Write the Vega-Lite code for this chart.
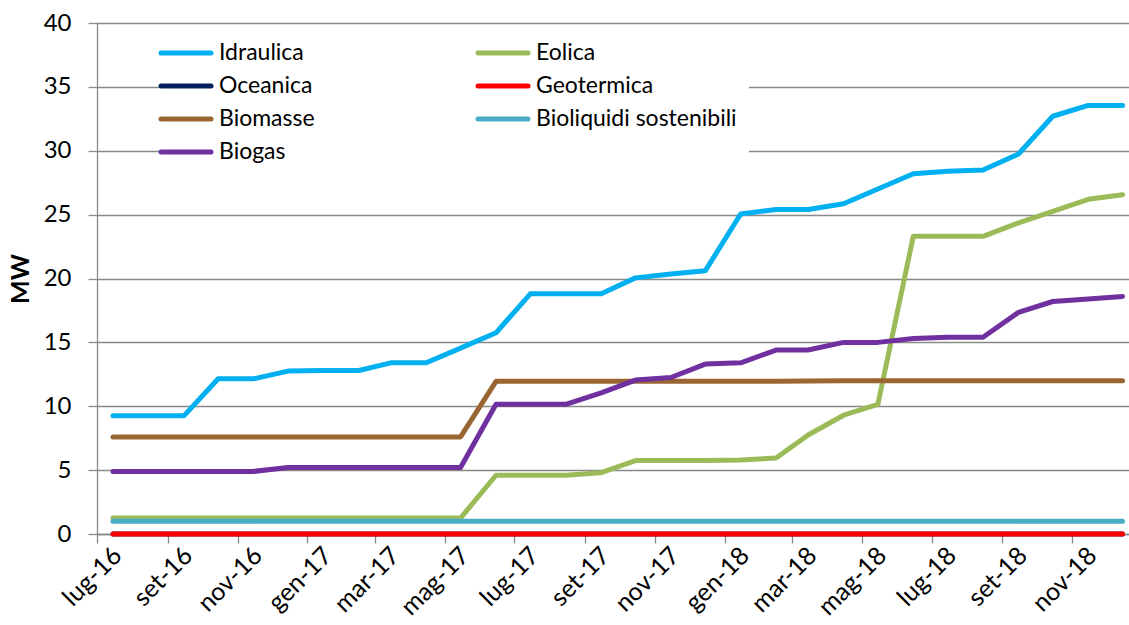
{
  "$schema": "https://vega.github.io/schema/vega-lite/v6.json",
  "width": 1032,
  "height": 511,
  "autosize": {"type": "none"},
  "padding": {"left": 97, "top": 23, "right": 0, "bottom": 91},
  "background": "white",
  "config": {"view": {"stroke": null}, "font": "Lato"},
  "data": {"values": [
    {"mese": "2016-07-01", "fonte": "Idraulica", "MW": 9.25},
    {"mese": "2016-08-01", "fonte": "Idraulica", "MW": 9.25},
    {"mese": "2016-09-01", "fonte": "Idraulica", "MW": 9.25},
    {"mese": "2016-10-01", "fonte": "Idraulica", "MW": 12.15},
    {"mese": "2016-11-01", "fonte": "Idraulica", "MW": 12.15},
    {"mese": "2016-12-01", "fonte": "Idraulica", "MW": 12.75},
    {"mese": "2017-01-01", "fonte": "Idraulica", "MW": 12.8},
    {"mese": "2017-02-01", "fonte": "Idraulica", "MW": 12.8},
    {"mese": "2017-03-01", "fonte": "Idraulica", "MW": 13.4},
    {"mese": "2017-04-01", "fonte": "Idraulica", "MW": 13.4},
    {"mese": "2017-05-01", "fonte": "Idraulica", "MW": 14.55},
    {"mese": "2017-06-01", "fonte": "Idraulica", "MW": 15.75},
    {"mese": "2017-07-01", "fonte": "Idraulica", "MW": 18.8},
    {"mese": "2017-08-01", "fonte": "Idraulica", "MW": 18.8},
    {"mese": "2017-09-01", "fonte": "Idraulica", "MW": 18.8},
    {"mese": "2017-10-01", "fonte": "Idraulica", "MW": 20.05},
    {"mese": "2017-11-01", "fonte": "Idraulica", "MW": 20.35},
    {"mese": "2017-12-01", "fonte": "Idraulica", "MW": 20.6},
    {"mese": "2018-01-01", "fonte": "Idraulica", "MW": 25.05},
    {"mese": "2018-02-01", "fonte": "Idraulica", "MW": 25.4},
    {"mese": "2018-03-01", "fonte": "Idraulica", "MW": 25.4},
    {"mese": "2018-04-01", "fonte": "Idraulica", "MW": 25.85},
    {"mese": "2018-05-01", "fonte": "Idraulica", "MW": 27.0},
    {"mese": "2018-06-01", "fonte": "Idraulica", "MW": 28.2},
    {"mese": "2018-07-01", "fonte": "Idraulica", "MW": 28.4},
    {"mese": "2018-08-01", "fonte": "Idraulica", "MW": 28.5},
    {"mese": "2018-09-01", "fonte": "Idraulica", "MW": 29.75},
    {"mese": "2018-10-01", "fonte": "Idraulica", "MW": 32.7},
    {"mese": "2018-11-01", "fonte": "Idraulica", "MW": 33.55},
    {"mese": "2018-12-01", "fonte": "Idraulica", "MW": 33.55},

    {"mese": "2016-07-01", "fonte": "Eolica", "MW": 1.25},
    {"mese": "2016-08-01", "fonte": "Eolica", "MW": 1.25},
    {"mese": "2016-09-01", "fonte": "Eolica", "MW": 1.25},
    {"mese": "2016-10-01", "fonte": "Eolica", "MW": 1.25},
    {"mese": "2016-11-01", "fonte": "Eolica", "MW": 1.25},
    {"mese": "2016-12-01", "fonte": "Eolica", "MW": 1.25},
    {"mese": "2017-01-01", "fonte": "Eolica", "MW": 1.25},
    {"mese": "2017-02-01", "fonte": "Eolica", "MW": 1.25},
    {"mese": "2017-03-01", "fonte": "Eolica", "MW": 1.25},
    {"mese": "2017-04-01", "fonte": "Eolica", "MW": 1.25},
    {"mese": "2017-05-01", "fonte": "Eolica", "MW": 1.25},
    {"mese": "2017-06-01", "fonte": "Eolica", "MW": 4.6},
    {"mese": "2017-07-01", "fonte": "Eolica", "MW": 4.6},
    {"mese": "2017-08-01", "fonte": "Eolica", "MW": 4.6},
    {"mese": "2017-09-01", "fonte": "Eolica", "MW": 4.8},
    {"mese": "2017-10-01", "fonte": "Eolica", "MW": 5.75},
    {"mese": "2017-11-01", "fonte": "Eolica", "MW": 5.75},
    {"mese": "2017-12-01", "fonte": "Eolica", "MW": 5.75},
    {"mese": "2018-01-01", "fonte": "Eolica", "MW": 5.8},
    {"mese": "2018-02-01", "fonte": "Eolica", "MW": 5.95},
    {"mese": "2018-03-01", "fonte": "Eolica", "MW": 7.75},
    {"mese": "2018-04-01", "fonte": "Eolica", "MW": 9.3},
    {"mese": "2018-05-01", "fonte": "Eolica", "MW": 10.15},
    {"mese": "2018-06-01", "fonte": "Eolica", "MW": 23.3},
    {"mese": "2018-07-01", "fonte": "Eolica", "MW": 23.3},
    {"mese": "2018-08-01", "fonte": "Eolica", "MW": 23.3},
    {"mese": "2018-09-01", "fonte": "Eolica", "MW": 24.35},
    {"mese": "2018-10-01", "fonte": "Eolica", "MW": 25.25},
    {"mese": "2018-11-01", "fonte": "Eolica", "MW": 26.2},
    {"mese": "2018-12-01", "fonte": "Eolica", "MW": 26.55},

    {"mese": "2016-07-01", "fonte": "Oceanica", "MW": 0},
    {"mese": "2016-08-01", "fonte": "Oceanica", "MW": 0},
    {"mese": "2016-09-01", "fonte": "Oceanica", "MW": 0},
    {"mese": "2016-10-01", "fonte": "Oceanica", "MW": 0},
    {"mese": "2016-11-01", "fonte": "Oceanica", "MW": 0},
    {"mese": "2016-12-01", "fonte": "Oceanica", "MW": 0},
    {"mese": "2017-01-01", "fonte": "Oceanica", "MW": 0},
    {"mese": "2017-02-01", "fonte": "Oceanica", "MW": 0},
    {"mese": "2017-03-01", "fonte": "Oceanica", "MW": 0},
    {"mese": "2017-04-01", "fonte": "Oceanica", "MW": 0},
    {"mese": "2017-05-01", "fonte": "Oceanica", "MW": 0},
    {"mese": "2017-06-01", "fonte": "Oceanica", "MW": 0},
    {"mese": "2017-07-01", "fonte": "Oceanica", "MW": 0},
    {"mese": "2017-08-01", "fonte": "Oceanica", "MW": 0},
    {"mese": "2017-09-01", "fonte": "Oceanica", "MW": 0},
    {"mese": "2017-10-01", "fonte": "Oceanica", "MW": 0},
    {"mese": "2017-11-01", "fonte": "Oceanica", "MW": 0},
    {"mese": "2017-12-01", "fonte": "Oceanica", "MW": 0},
    {"mese": "2018-01-01", "fonte": "Oceanica", "MW": 0},
    {"mese": "2018-02-01", "fonte": "Oceanica", "MW": 0},
    {"mese": "2018-03-01", "fonte": "Oceanica", "MW": 0},
    {"mese": "2018-04-01", "fonte": "Oceanica", "MW": 0},
    {"mese": "2018-05-01", "fonte": "Oceanica", "MW": 0},
    {"mese": "2018-06-01", "fonte": "Oceanica", "MW": 0},
    {"mese": "2018-07-01", "fonte": "Oceanica", "MW": 0},
    {"mese": "2018-08-01", "fonte": "Oceanica", "MW": 0},
    {"mese": "2018-09-01", "fonte": "Oceanica", "MW": 0},
    {"mese": "2018-10-01", "fonte": "Oceanica", "MW": 0},
    {"mese": "2018-11-01", "fonte": "Oceanica", "MW": 0},
    {"mese": "2018-12-01", "fonte": "Oceanica", "MW": 0},

    {"mese": "2016-07-01", "fonte": "Geotermica", "MW": 0},
    {"mese": "2016-08-01", "fonte": "Geotermica", "MW": 0},
    {"mese": "2016-09-01", "fonte": "Geotermica", "MW": 0},
    {"mese": "2016-10-01", "fonte": "Geotermica", "MW": 0},
    {"mese": "2016-11-01", "fonte": "Geotermica", "MW": 0},
    {"mese": "2016-12-01", "fonte": "Geotermica", "MW": 0},
    {"mese": "2017-01-01", "fonte": "Geotermica", "MW": 0},
    {"mese": "2017-02-01", "fonte": "Geotermica", "MW": 0},
    {"mese": "2017-03-01", "fonte": "Geotermica", "MW": 0},
    {"mese": "2017-04-01", "fonte": "Geotermica", "MW": 0},
    {"mese": "2017-05-01", "fonte": "Geotermica", "MW": 0},
    {"mese": "2017-06-01", "fonte": "Geotermica", "MW": 0},
    {"mese": "2017-07-01", "fonte": "Geotermica", "MW": 0},
    {"mese": "2017-08-01", "fonte": "Geotermica", "MW": 0},
    {"mese": "2017-09-01", "fonte": "Geotermica", "MW": 0},
    {"mese": "2017-10-01", "fonte": "Geotermica", "MW": 0},
    {"mese": "2017-11-01", "fonte": "Geotermica", "MW": 0},
    {"mese": "2017-12-01", "fonte": "Geotermica", "MW": 0},
    {"mese": "2018-01-01", "fonte": "Geotermica", "MW": 0},
    {"mese": "2018-02-01", "fonte": "Geotermica", "MW": 0},
    {"mese": "2018-03-01", "fonte": "Geotermica", "MW": 0},
    {"mese": "2018-04-01", "fonte": "Geotermica", "MW": 0},
    {"mese": "2018-05-01", "fonte": "Geotermica", "MW": 0},
    {"mese": "2018-06-01", "fonte": "Geotermica", "MW": 0},
    {"mese": "2018-07-01", "fonte": "Geotermica", "MW": 0},
    {"mese": "2018-08-01", "fonte": "Geotermica", "MW": 0},
    {"mese": "2018-09-01", "fonte": "Geotermica", "MW": 0},
    {"mese": "2018-10-01", "fonte": "Geotermica", "MW": 0},
    {"mese": "2018-11-01", "fonte": "Geotermica", "MW": 0},
    {"mese": "2018-12-01", "fonte": "Geotermica", "MW": 0},

    {"mese": "2016-07-01", "fonte": "Biomasse", "MW": 7.6},
    {"mese": "2016-08-01", "fonte": "Biomasse", "MW": 7.6},
    {"mese": "2016-09-01", "fonte": "Biomasse", "MW": 7.6},
    {"mese": "2016-10-01", "fonte": "Biomasse", "MW": 7.6},
    {"mese": "2016-11-01", "fonte": "Biomasse", "MW": 7.6},
    {"mese": "2016-12-01", "fonte": "Biomasse", "MW": 7.6},
    {"mese": "2017-01-01", "fonte": "Biomasse", "MW": 7.6},
    {"mese": "2017-02-01", "fonte": "Biomasse", "MW": 7.6},
    {"mese": "2017-03-01", "fonte": "Biomasse", "MW": 7.6},
    {"mese": "2017-04-01", "fonte": "Biomasse", "MW": 7.6},
    {"mese": "2017-05-01", "fonte": "Biomasse", "MW": 7.6},
    {"mese": "2017-06-01", "fonte": "Biomasse", "MW": 11.95},
    {"mese": "2017-07-01", "fonte": "Biomasse", "MW": 11.95},
    {"mese": "2017-08-01", "fonte": "Biomasse", "MW": 11.95},
    {"mese": "2017-09-01", "fonte": "Biomasse", "MW": 11.95},
    {"mese": "2017-10-01", "fonte": "Biomasse", "MW": 11.95},
    {"mese": "2017-11-01", "fonte": "Biomasse", "MW": 11.95},
    {"mese": "2017-12-01", "fonte": "Biomasse", "MW": 11.95},
    {"mese": "2018-01-01", "fonte": "Biomasse", "MW": 11.95},
    {"mese": "2018-02-01", "fonte": "Biomasse", "MW": 11.95},
    {"mese": "2018-03-01", "fonte": "Biomasse", "MW": 11.98},
    {"mese": "2018-04-01", "fonte": "Biomasse", "MW": 12.0},
    {"mese": "2018-05-01", "fonte": "Biomasse", "MW": 12.0},
    {"mese": "2018-06-01", "fonte": "Biomasse", "MW": 12.0},
    {"mese": "2018-07-01", "fonte": "Biomasse", "MW": 12.0},
    {"mese": "2018-08-01", "fonte": "Biomasse", "MW": 12.0},
    {"mese": "2018-09-01", "fonte": "Biomasse", "MW": 12.0},
    {"mese": "2018-10-01", "fonte": "Biomasse", "MW": 12.0},
    {"mese": "2018-11-01", "fonte": "Biomasse", "MW": 12.0},
    {"mese": "2018-12-01", "fonte": "Biomasse", "MW": 12.0},

    {"mese": "2016-07-01", "fonte": "Bioliquidi sostenibili", "MW": 1.0},
    {"mese": "2016-08-01", "fonte": "Bioliquidi sostenibili", "MW": 1.0},
    {"mese": "2016-09-01", "fonte": "Bioliquidi sostenibili", "MW": 1.0},
    {"mese": "2016-10-01", "fonte": "Bioliquidi sostenibili", "MW": 1.0},
    {"mese": "2016-11-01", "fonte": "Bioliquidi sostenibili", "MW": 1.0},
    {"mese": "2016-12-01", "fonte": "Bioliquidi sostenibili", "MW": 1.0},
    {"mese": "2017-01-01", "fonte": "Bioliquidi sostenibili", "MW": 1.0},
    {"mese": "2017-02-01", "fonte": "Bioliquidi sostenibili", "MW": 1.0},
    {"mese": "2017-03-01", "fonte": "Bioliquidi sostenibili", "MW": 1.0},
    {"mese": "2017-04-01", "fonte": "Bioliquidi sostenibili", "MW": 1.0},
    {"mese": "2017-05-01", "fonte": "Bioliquidi sostenibili", "MW": 1.0},
    {"mese": "2017-06-01", "fonte": "Bioliquidi sostenibili", "MW": 1.0},
    {"mese": "2017-07-01", "fonte": "Bioliquidi sostenibili", "MW": 1.0},
    {"mese": "2017-08-01", "fonte": "Bioliquidi sostenibili", "MW": 1.0},
    {"mese": "2017-09-01", "fonte": "Bioliquidi sostenibili", "MW": 1.0},
    {"mese": "2017-10-01", "fonte": "Bioliquidi sostenibili", "MW": 1.0},
    {"mese": "2017-11-01", "fonte": "Bioliquidi sostenibili", "MW": 1.0},
    {"mese": "2017-12-01", "fonte": "Bioliquidi sostenibili", "MW": 1.0},
    {"mese": "2018-01-01", "fonte": "Bioliquidi sostenibili", "MW": 1.0},
    {"mese": "2018-02-01", "fonte": "Bioliquidi sostenibili", "MW": 1.0},
    {"mese": "2018-03-01", "fonte": "Bioliquidi sostenibili", "MW": 1.0},
    {"mese": "2018-04-01", "fonte": "Bioliquidi sostenibili", "MW": 1.0},
    {"mese": "2018-05-01", "fonte": "Bioliquidi sostenibili", "MW": 1.0},
    {"mese": "2018-06-01", "fonte": "Bioliquidi sostenibili", "MW": 1.0},
    {"mese": "2018-07-01", "fonte": "Bioliquidi sostenibili", "MW": 1.0},
    {"mese": "2018-08-01", "fonte": "Bioliquidi sostenibili", "MW": 1.0},
    {"mese": "2018-09-01", "fonte": "Bioliquidi sostenibili", "MW": 1.0},
    {"mese": "2018-10-01", "fonte": "Bioliquidi sostenibili", "MW": 1.0},
    {"mese": "2018-11-01", "fonte": "Bioliquidi sostenibili", "MW": 1.0},
    {"mese": "2018-12-01", "fonte": "Bioliquidi sostenibili", "MW": 1.0},

    {"mese": "2016-07-01", "fonte": "Biogas", "MW": 4.9},
    {"mese": "2016-08-01", "fonte": "Biogas", "MW": 4.9},
    {"mese": "2016-09-01", "fonte": "Biogas", "MW": 4.9},
    {"mese": "2016-10-01", "fonte": "Biogas", "MW": 4.9},
    {"mese": "2016-11-01", "fonte": "Biogas", "MW": 4.9},
    {"mese": "2016-12-01", "fonte": "Biogas", "MW": 5.2},
    {"mese": "2017-01-01", "fonte": "Biogas", "MW": 5.2},
    {"mese": "2017-02-01", "fonte": "Biogas", "MW": 5.2},
    {"mese": "2017-03-01", "fonte": "Biogas", "MW": 5.2},
    {"mese": "2017-04-01", "fonte": "Biogas", "MW": 5.2},
    {"mese": "2017-05-01", "fonte": "Biogas", "MW": 5.2},
    {"mese": "2017-06-01", "fonte": "Biogas", "MW": 10.15},
    {"mese": "2017-07-01", "fonte": "Biogas", "MW": 10.15},
    {"mese": "2017-08-01", "fonte": "Biogas", "MW": 10.15},
    {"mese": "2017-09-01", "fonte": "Biogas", "MW": 11.05},
    {"mese": "2017-10-01", "fonte": "Biogas", "MW": 12.05},
    {"mese": "2017-11-01", "fonte": "Biogas", "MW": 12.25},
    {"mese": "2017-12-01", "fonte": "Biogas", "MW": 13.3},
    {"mese": "2018-01-01", "fonte": "Biogas", "MW": 13.4},
    {"mese": "2018-02-01", "fonte": "Biogas", "MW": 14.4},
    {"mese": "2018-03-01", "fonte": "Biogas", "MW": 14.4},
    {"mese": "2018-04-01", "fonte": "Biogas", "MW": 15.0},
    {"mese": "2018-05-01", "fonte": "Biogas", "MW": 15.0},
    {"mese": "2018-06-01", "fonte": "Biogas", "MW": 15.3},
    {"mese": "2018-07-01", "fonte": "Biogas", "MW": 15.4},
    {"mese": "2018-08-01", "fonte": "Biogas", "MW": 15.4},
    {"mese": "2018-09-01", "fonte": "Biogas", "MW": 17.35},
    {"mese": "2018-10-01", "fonte": "Biogas", "MW": 18.2},
    {"mese": "2018-11-01", "fonte": "Biogas", "MW": 18.4},
    {"mese": "2018-12-01", "fonte": "Biogas", "MW": 18.6}
  ]},
  "mark": {"type": "line", "strokeWidth": 5, "strokeCap": "round", "strokeJoin": "round"},
  "encoding": {
    "x": {
      "field": "mese",
      "type": "temporal",
      "scale": {
        "type": "utc",
        "domain": [
          {"year": 2016, "month": 6, "date": 17, "utc": true},
          {"year": 2018, "month": 12, "date": 6, "hours": 16, "utc": true}
        ]
      },
      "axis": {
        "title": null,
        "grid": false,
        "tickCount": {"interval": "month", "step": 2},
        "labelExpr": "['gen','feb','mar','apr','mag','giu','lug','ago','set','ott','nov','dic'][utcmonth(datum.value)] + '-' + utcFormat(datum.value, '%y')",
        "labelAngle": -45,
        "labelAlign": "right",
        "labelBaseline": "middle",
        "labelFontSize": 25,
        "labelColor": "#000000",
        "labelPadding": 8,
        "labelOffset": 20,
        "tickOffset": -16,
        "tickSize": 9,
        "tickColor": "#898989",
        "tickWidth": 1.3,
        "domainColor": "#898989",
        "domainWidth": 1.3,
        "labelOverlap": false,
        "labelBound": false,
        "labelFlush": false
      }
    },
    "y": {
      "field": "MW",
      "type": "quantitative",
      "scale": {"domain": [0, 40], "nice": false, "zero": true},
      "axis": {
        "title": "MW",
        "titleFontSize": 25,
        "titleFontWeight": "bold",
        "titleColor": "#000000",
        "titlePadding": 10,
        "values": [0, 5, 10, 15, 20, 25, 30, 35, 40],
        "labelFontSize": 24,
        "labelColor": "#000000",
        "labelPadding": 17,
        "tickSize": 9,
        "tickColor": "#898989",
        "tickWidth": 1.3,
        "domainColor": "#898989",
        "domainWidth": 1.3,
        "grid": true,
        "gridColor": "#898989",
        "gridWidth": 1.3
      }
    },
    "color": {
      "field": "fonte",
      "type": "nominal",
      "scale": {
        "domain": ["Idraulica", "Eolica", "Oceanica", "Geotermica", "Biomasse", "Bioliquidi sostenibili", "Biogas"],
        "range": ["#00B0F0", "#9BBB59", "#002060", "#FF0000", "#996633", "#4BACC6", "#7030A0"]
      },
      "legend": {
        "title": null,
        "orient": "none",
        "legendX": 62,
        "legendY": 3,
        "direction": "horizontal",
        "columns": 2,
        "columnPadding": 153,
        "rowPadding": 6,
        "padding": 12,
        "fillColor": "white",
        "symbolType": "M-2,0H2",
        "symbolSize": 625,
        "symbolStrokeWidth": 5,
        "labelFontSize": 23,
        "labelColor": "#000000",
        "labelOffset": 18,
        "labelLimit": 400,
        "encode": {"symbols": {"update": {"strokeCap": {"value": "round"}}}}
      }
    }
  }
}
